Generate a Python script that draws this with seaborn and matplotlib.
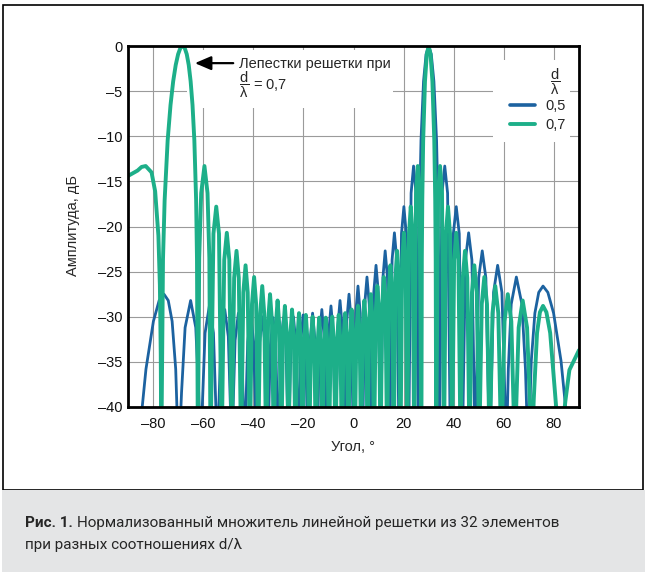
import matplotlib
matplotlib.use("Agg")
import matplotlib.pyplot as plt
import seaborn as sns
from matplotlib.lines import Line2D
from matplotlib.patches import Rectangle

# --- values (angle in degrees, level in dB) ---
# -45 marks a null that falls below the bottom of the axis
BLUE_ANGLE = [
    -90.0, -84.93, -82.83, -79.86, -77.57, -75.64, -73.93, -72.39, -70.96, -70.29, -69.64,
    -68.63, -67.21, -65.00, -62.95, -61.79, -61.04,
    -59.24, -57.53, -55.90, -54.34,
    -52.83, -51.38, -49.96, -48.59,
    -47.25, -45.95, -44.68, -43.43,
    -42.22, -41.01, -39.85, -38.68, -37.55, -36.42, -35.33, -34.23,
    -33.16, -32.09, -31.05, -30.00, -28.98, -27.95, -26.95, -25.94,
    -24.96, -23.97, -23.00, -22.02, -21.07, -20.11, -19.16, -18.21,
    -17.27, -16.33, -15.41, -14.48, -13.56, -12.64, -11.73, -10.81,
    -9.90, -8.99, -8.09, -7.18, -6.28, -5.38, -4.48, -3.58,
    -2.69, -1.79, -0.90, 0.00, 0.90, 1.79, 2.69, 3.58,
    4.48, 5.38, 6.28, 7.18, 8.09, 8.99, 9.90, 10.81,
    11.73, 12.64, 13.56, 14.48,
    15.40, 16.33, 17.27, 18.21,
    19.15, 20.11, 21.06, 22.02,
    22.99, 23.97, 24.95, 25.94,
    26.19, 26.44, 26.94, 27.95, 28.97, 30.00, 31.04, 32.09, 33.15, 33.69, 33.96, 34.23,
    35.32, 36.42, 37.55, 38.68,
    39.84, 41.01, 42.21, 43.43,
    44.68, 45.95, 47.25, 48.59,
    49.96, 51.38, 52.83, 54.34,
    55.90, 57.53, 59.24, 61.04,
    61.79, 62.95, 65.00, 67.21, 68.63, 69.64,
    70.29, 70.96, 72.39, 73.93, 75.64, 77.57, 79.86, 82.83, 84.93, 90.0,
]
BLUE_DB = [
    -45, -41.7, -35.8, -30.5, -28.2, -27.5, -28.2, -30.5, -35.8, -41.7, -45,
    -38.4, -31.2, -28.2, -31.2, -38.4, -45,
    -31.8, -28.8, -31.8, -45,
    -32.2, -29.2, -32.2, -45,
    -32.6, -29.6, -32.6, -45,
    -32.8, -29.8, -32.8, -45, -33.0, -30.0, -33.0, -45,
    -33.1, -30.1, -33.1, -45, -33.1, -30.1, -33.1, -45,
    -33.0, -30.0, -33.0, -45, -32.8, -29.8, -32.8, -45,
    -32.6, -29.6, -32.6, -45, -32.2, -29.2, -32.2, -45,
    -31.8, -28.8, -31.8, -45, -31.2, -28.2, -31.2, -45,
    -30.5, -27.5, -30.5, -45, -29.6, -26.6, -29.6, -45,
    -28.6, -25.6, -28.6, -45, -27.3, -24.3, -27.3, -45,
    -25.7, -22.7, -25.7, -45,
    -23.7, -20.7, -23.7, -45,
    -20.8, -17.8, -20.8, -45,
    -16.3, -13.3, -16.3, -45,
    -23.6, -17.1, -10.45, -3.92, -0.91, 0, -0.91, -3.92, -10.45, -17.1, -23.6, -45,
    -16.3, -13.3, -16.3, -45,
    -20.8, -17.8, -20.8, -45,
    -23.7, -20.7, -23.7, -45,
    -25.7, -22.7, -25.7, -45,
    -27.3, -24.3, -27.3, -45,
    -35.8, -28.6, -25.6, -28.6, -35.8, -45,
    -40.8, -34.9, -29.6, -27.3, -26.6, -27.3, -29.6, -34.9, -40.8, -45,
]

GREEN_ANGLE = [
    -90.0, -86.17, -84.58, -82.94, -80.61, -79.16, -77.87, -77.28, -76.93, -76.70,
    -76.03, -75.38, -74.17, -73.03, -71.97, -70.96, -70.00, -69.09, -68.21,
    -67.37, -66.55, -65.76, -65.00, -64.25, -63.52, -62.81, -62.47, -62.11,
    -61.58, -60.79, -59.49, -58.26, -57.53, -57.06,
    -55.90, -54.78, -53.69, -52.62,
    -51.59, -50.56, -49.57, -48.59,
    -47.64, -46.69, -45.78, -44.86, -43.97, -43.08, -42.22, -41.36,
    -40.52, -39.67, -38.86, -38.04, -37.23, -36.42, -35.64, -34.85,
    -34.08, -33.31, -32.55, -31.79, -31.05, -30.30, -29.56, -28.82,
    -28.10, -27.38, -26.66, -25.94, -25.24, -24.53, -23.83, -23.13,
    -22.44, -21.75, -21.07, -20.38, -19.70, -19.02, -18.35, -17.67,
    -17.00, -16.33, -15.67, -15.01, -14.35, -13.69, -13.03, -12.37,
    -11.72, -11.07, -10.42, -9.77, -9.12, -8.47, -7.83, -7.18,
    -6.54, -5.89, -5.25, -4.61, -3.97, -3.33, -2.69, -2.05,
    -1.41, -0.77, -0.13, 0.51, 1.15, 1.79, 2.43, 3.07,
    3.71, 4.35, 5.00, 5.64, 6.28, 6.92, 7.57, 8.21,
    8.86, 9.51, 10.16, 10.81, 11.46, 12.11, 12.77, 13.42,
    14.08, 14.74, 15.41, 16.07, 16.74, 17.40, 18.08, 18.75,
    19.43, 20.11, 20.79, 21.47,
    22.16, 22.85, 23.55, 24.25,
    24.95, 25.66, 26.37, 27.09,
    27.27, 27.45, 27.81, 28.53, 29.26, 30.00, 30.74, 31.49, 32.24, 32.62, 32.81, 33.00,
    33.77, 34.54, 35.32, 36.11,
    36.90, 37.71, 38.52, 39.34,
    40.17, 41.01, 41.87, 42.73,
    43.62, 44.50, 45.41, 46.32, 47.27, 48.21, 49.19, 50.17,
    51.19, 52.21, 53.28, 54.34, 55.47, 56.59, 57.79, 58.99,
    60.29, 61.58, 62.98, 64.38,
    65.92, 67.52, 69.27, 71.15,
    71.97, 73.25, 74.40, 75.64, 76.99, 78.50, 80.61, 82.34,
    84.58, 86.17, 90.0,
]
GREEN_DB = [
    -14.4, -13.8, -13.4, -13.3, -14.0, -16.1, -21.0, -26.5, -34.1, -45,
    -23.6, -17.1, -10.45, -6.54, -3.92, -2.11, -0.91, -0.22, 0,
    -0.22, -0.91, -2.11, -3.92, -6.54, -10.45, -17.1, -23.6, -45,
    -23.5, -16.3, -13.3, -16.3, -23.5, -45,
    -20.8, -17.8, -20.8, -45,
    -23.7, -20.7, -23.7, -45,
    -25.7, -22.7, -25.7, -45, -27.3, -24.3, -27.3, -45,
    -28.6, -25.6, -28.6, -45, -29.6, -26.6, -29.6, -45,
    -30.5, -27.5, -30.5, -45, -31.2, -28.2, -31.2, -45,
    -31.8, -28.8, -31.8, -45, -32.2, -29.2, -32.2, -45,
    -32.6, -29.6, -32.6, -45, -32.8, -29.8, -32.8, -45,
    -33.0, -30.0, -33.0, -45, -33.1, -30.1, -33.1, -45,
    -33.1, -30.1, -33.1, -45, -33.0, -30.0, -33.0, -45,
    -32.8, -29.8, -32.8, -45, -32.6, -29.6, -32.6, -45,
    -32.2, -29.2, -32.2, -45, -31.8, -28.8, -31.8, -45,
    -31.2, -28.2, -31.2, -45, -30.5, -27.5, -30.5, -45,
    -29.6, -26.6, -29.6, -45, -28.6, -25.6, -28.6, -45,
    -27.3, -24.3, -27.3, -45, -25.7, -22.7, -25.7, -45,
    -23.7, -20.7, -23.7, -45,
    -20.8, -17.8, -20.8, -45,
    -16.3, -13.3, -16.3, -45,
    -23.6, -17.1, -10.45, -3.92, -0.91, 0, -0.91, -3.92, -10.45, -17.1, -23.6, -45,
    -16.3, -13.3, -16.3, -45,
    -20.8, -17.8, -20.8, -45,
    -23.7, -20.7, -23.7, -45,
    -25.7, -22.7, -25.7, -45, -27.3, -24.3, -27.3, -45,
    -28.6, -25.6, -28.6, -45, -29.6, -26.6, -29.6, -45,
    -30.5, -27.5, -30.5, -45,
    -31.2, -28.2, -31.2, -45,
    -39.0, -31.8, -29.5, -28.8, -29.5, -31.8, -39.0, -45,
    -39.3, -35.9, -33.7,
]

SERIES_LABELS = ["0,5", "0,7"]
X_TICKS = [-80, -60, -40, -20, 0, 20, 40, 60, 80]
Y_TICKS = [0, -5, -10, -15, -20, -25, -30, -35, -40]

BLUE = "#1c62a0"
GREEN = "#1daf89"

sns.set_style("white")
plt.rcParams["font.family"] = ["Liberation Sans", "DejaVu Sans"]
plt.rcParams["mathtext.fontset"] = "custom"
plt.rcParams["mathtext.rm"] = "Liberation Sans"
plt.rcParams["mathtext.it"] = "Liberation Sans:italic"
plt.rcParams["mathtext.bf"] = "Liberation Sans:bold"

W, H = 649, 580
fig = plt.figure(figsize=(W / 100, H / 100), dpi=100)
ax = fig.add_axes([128 / W, 1 - 407 / H, 451 / W, 361 / H])

# outer frame and caption band
fig.patches.append(Rectangle((3.3 / W, 1 - 490 / H), 640 / W, 485 / H, transform=fig.transFigure,
                             fill=False, edgecolor="black", lw=1.2, zorder=0))
fig.patches.append(Rectangle((2 / W, 1 - 572 / H), 643 / W, 82 / H, transform=fig.transFigure,
                             facecolor="#e4e5e6", edgecolor="none", zorder=1))

sns.lineplot(x=BLUE_ANGLE, y=BLUE_DB, ax=ax, color=BLUE, lw=2.0, sort=False, estimator=None, zorder=3)
sns.lineplot(x=GREEN_ANGLE, y=GREEN_DB, ax=ax, color=GREEN, lw=2.8, sort=False, estimator=None, zorder=4)

ax.set_xlim(-90, 90)
ax.set_ylim(-40, 0)
ax.set_xticks(X_TICKS)
ax.set_xticklabels([f"–{abs(v)}" if v < 0 else str(v) for v in X_TICKS])
ax.set_yticks(Y_TICKS)
ax.set_yticklabels([f"–{abs(v)}" if v < 0 else str(v) for v in Y_TICKS])
ax.tick_params(axis="both", length=0, labelsize=10.5, colors="#111111")
ax.tick_params(axis="x", pad=7)
ax.tick_params(axis="y", pad=4)
ax.grid(True, color="#9b9b9b", lw=0.8)
ax.set_axisbelow(True)
for sp in ax.spines.values():
    sp.set_color("black")
    sp.set_linewidth(2.0)
    sp.set_zorder(6)
ax.set_xlabel("")
ax.set_ylabel("")

# white boxes behind annotation and legend
ax.add_patch(Rectangle((-66.5, -6.9), 82.2, 6.45, facecolor="white", edgecolor="none", zorder=1))
ax.add_patch(Rectangle((55.6, -10.6), 30.8, 9.05, facecolor="white", edgecolor="none", zorder=1))

# annotation for grating lobe
ax.annotate("", xy=(-63.3, -1.9), xytext=(-48.0, -1.9),
            arrowprops=dict(arrowstyle="-|>,head_length=0.7,head_width=0.3", color="black",
                            lw=1.6, shrinkA=0, shrinkB=0, mutation_scale=14), zorder=5)
ax.text(-45.6, -1.95, "Лепестки решетки при", fontsize=10.5, va="center", ha="left", zorder=5)
ax.text(-45.6, -4.3, r"$\dfrac{\mathrm{d}}{\mathrm{λ}}$ = 0,7", fontsize=10.5, va="center", ha="left", zorder=5)

# legend
handles = [Line2D([], [], color=BLUE, lw=2.6), Line2D([], [], color=GREEN, lw=2.8)]
ax.legend(handles, SERIES_LABELS, loc="upper left", bbox_to_anchor=((510 - 128) / 451, 1 - (99 - 46) / 361),
          frameon=False, fontsize=10.5, handlelength=1.7, handletextpad=0.75, labelspacing=0.35,
          borderpad=0, borderaxespad=0)
ax.text(80.4, -4.0, r"$\dfrac{\mathrm{d}}{\mathrm{λ}}$", fontsize=10.5, ha="center", va="center", zorder=5)

# axis labels
fig.text(73 / W, 1 - 226 / H, "Амплитуда, дБ", rotation=90, ha="center", va="center", fontsize=10.5)
fig.text(353 / W, 1 - 447 / H, "Угол, °", ha="center", va="center", fontsize=10.5)

# caption
cap_font = ["Roboto", "Liberation Sans", "DejaVu Sans"]
t1 = fig.text(25 / W, 1 - 527 / H, "Рис. 1.", family=cap_font, fontweight="bold",
              fontsize=11, va="baseline", zorder=3)
fig.canvas.draw()
bb = t1.get_window_extent()
fig.text((bb.x1 + 4) / W, 1 - 527 / H, "Нормализованный множитель линейной решетки из 32 элементов",
         family=cap_font, fontsize=11, va="baseline", zorder=3)
fig.text(25 / W, 1 - 549 / H, "при разных соотношениях d/λ", family=cap_font, fontsize=11,
         va="baseline", zorder=3)

fig.savefig("out.png", dpi=100)
